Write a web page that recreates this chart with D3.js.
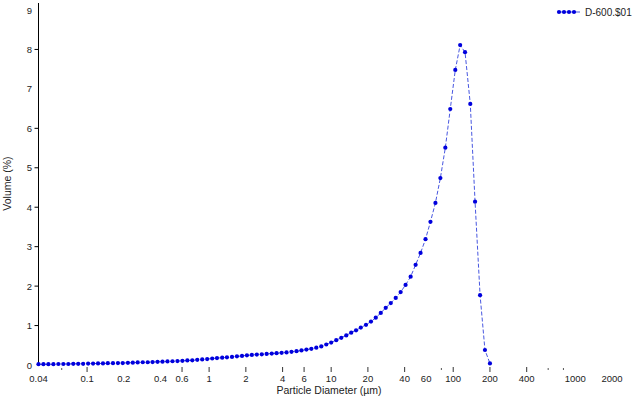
<!DOCTYPE html>
<html>
<head>
<meta charset="utf-8">
<script src="https://cdn.jsdelivr.net/npm/d3@7.9.0/dist/d3.min.js"></script>
<style>
  body { margin: 0; background: #fff; }
  svg text { font-family: "Liberation Sans", Arial, sans-serif; fill: #222; }
</style>
</head>
<body>
<svg id="chart" width="640" height="398"></svg>
<script>
// particle size bins (µm)
const diameters = [
  0.0400, 0.0439, 0.0482, 0.0530, 0.0582, 0.0639, 0.0702, 0.0771, 0.0846, 0.0929,
  0.102, 0.112, 0.123, 0.135, 0.148, 0.163, 0.179, 0.196, 0.216, 0.237,
  0.260, 0.286, 0.314, 0.344, 0.378, 0.415, 0.456, 0.501, 0.550, 0.604,
  0.663, 0.728, 0.800, 0.878, 0.964, 1.06, 1.16, 1.28, 1.40, 1.54,
  1.69, 1.86, 2.04, 2.24, 2.46, 2.70, 2.96, 3.26, 3.57, 3.93,
  4.31, 4.73, 5.20, 5.71, 6.27, 6.88, 7.56, 8.30, 9.12, 10.0,
  11.0, 12.1, 13.3, 14.6, 16.0, 17.5, 19.3, 21.2, 23.2, 25.5,
  28.0, 30.8, 33.8, 37.1, 40.7, 44.8, 49.2, 54.0, 59.3, 65.1,
  71.5, 78.5, 86.2, 94.6, 104, 114, 125, 138, 151, 166,
  182, 200
];

// volume (%) for series D-600.$01
const volumes = [
  0.02, 0.02, 0.02, 0.02, 0.025, 0.025, 0.025, 0.03, 0.03, 0.03,
  0.035, 0.035, 0.04, 0.04, 0.045, 0.045, 0.05, 0.05, 0.055, 0.06,
  0.065, 0.07, 0.07, 0.075, 0.08, 0.085, 0.09, 0.095, 0.10, 0.105,
  0.115, 0.12, 0.13, 0.14, 0.15, 0.165, 0.175, 0.185, 0.195, 0.205,
  0.22, 0.23, 0.245, 0.255, 0.265, 0.27, 0.28, 0.29, 0.30, 0.31,
  0.32, 0.335, 0.35, 0.37, 0.39, 0.41, 0.44, 0.47, 0.52, 0.57,
  0.63, 0.69, 0.75, 0.82, 0.88, 0.95, 1.02, 1.10, 1.20, 1.32,
  1.45, 1.57, 1.70, 1.85, 2.03, 2.24, 2.54, 2.84, 3.19, 3.63,
  4.11, 4.74, 5.51, 6.49, 7.48, 8.11, 7.93, 6.62, 4.14, 1.77,
  0.38, 0.04
];

const seriesName = 'D-600.$01';

// axis labels and tick marks
const xLabels = [0.04, 0.1, 0.2, 0.4, 0.6, 1, 2, 4, 6, 10, 20, 40, 60, 100, 200, 400, 1000, 2000];
const xMajorMarks = [0.1, 0.6, 1, 2, 4, 6, 10, 20, 40, 100, 200, 400];
const xMinorMarks = [0.062, 80, 600, 800];
const yLabels = [0, 1, 2, 3, 4, 5, 6, 7, 8, 9];
const yMarks = [1, 2, 3, 4, 5, 6, 8];

const svg = d3.select('#chart');

const x = d3.scaleLog().domain([0.04, 2000]).range([38.5, 612]);
const y = d3.scaleLinear().domain([0, 9]).range([365, 10]);

const data = diameters.map((d, i) => ({ d: d, v: volumes[i] }));

// y axis line
svg.append('line')
  .attr('x1', x(0.04)).attr('x2', x(0.04))
  .attr('y1', 3).attr('y2', y(0))
  .attr('stroke', '#000').attr('stroke-width', 1);

svg.selectAll('.ytick').data(yMarks).join('line')
  .attr('class', 'ytick')
  .attr('x1', x(0.04) - 4).attr('x2', x(0.04))
  .attr('y1', d => y(d)).attr('y2', d => y(d))
  .attr('stroke', '#000');

svg.selectAll('.ylab').data(yLabels).join('text')
  .attr('class', 'ylab')
  .attr('x', 32).attr('y', d => y(d) + 3.5)
  .attr('text-anchor', 'end')
  .attr('font-size', 9.5)
  .text(d => d);

// x ticks
svg.selectAll('.xmaj').data(xMajorMarks).join('line')
  .attr('class', 'xmaj')
  .attr('x1', d => x(d)).attr('x2', d => x(d))
  .attr('y1', 367).attr('y2', 372)
  .attr('stroke', '#333');

svg.selectAll('.xmin').data(xMinorMarks).join('line')
  .attr('class', 'xmin')
  .attr('x1', d => x(d)).attr('x2', d => x(d))
  .attr('y1', 368).attr('y2', 370)
  .attr('stroke', '#555');

svg.selectAll('.xlab').data(xLabels).join('text')
  .attr('class', 'xlab')
  .attr('x', d => x(d)).attr('y', 382)
  .attr('text-anchor', 'middle')
  .attr('font-size', 9.5)
  .text(d => d);

// axis titles
svg.append('text')
  .attr('x', 329).attr('y', 394)
  .attr('text-anchor', 'middle')
  .attr('font-size', 10.5)
  .text('Particle Diameter (µm)');

svg.append('text')
  .attr('transform', 'translate(11,' + y(4.6) + ') rotate(-90)')
  .attr('text-anchor', 'middle')
  .attr('font-size', 10.5)
  .text('Volume (%)');

// series
const line = d3.line().x(d => x(d.d)).y(d => y(d.v));

svg.append('path')
  .datum(data)
  .attr('d', line)
  .attr('fill', 'none')
  .attr('stroke', '#3344dd')
  .attr('stroke-width', 0.9)
  .attr('stroke-dasharray', '4,2');

const marker = d3.symbol().type(d3.symbolCircle).size(14);

svg.selectAll('.pt').data(data).join('path')
  .attr('class', 'pt')
  .attr('transform', d => `translate(${x(d.d)},${y(d.v)})`)
  .attr('d', marker)
  .attr('fill', '#0000dd');

// legend
const legend = svg.append('g').attr('transform', 'translate(558,12)');
legend.append('line')
  .attr('x1', 0).attr('x2', 22).attr('y1', 0).attr('y2', 0)
  .attr('stroke', '#3344dd').attr('stroke-width', 0.9);
legend.selectAll('.lm').data([1, 6, 11, 16]).join('path')
  .attr('class', 'lm')
  .attr('transform', d => `translate(${d},0)`)
  .attr('d', marker)
  .attr('fill', '#0000dd');
legend.append('text')
  .attr('x', 27).attr('y', 3.5)
  .attr('font-size', 10)
  .text(seriesName);
</script>
</body>
</html>
